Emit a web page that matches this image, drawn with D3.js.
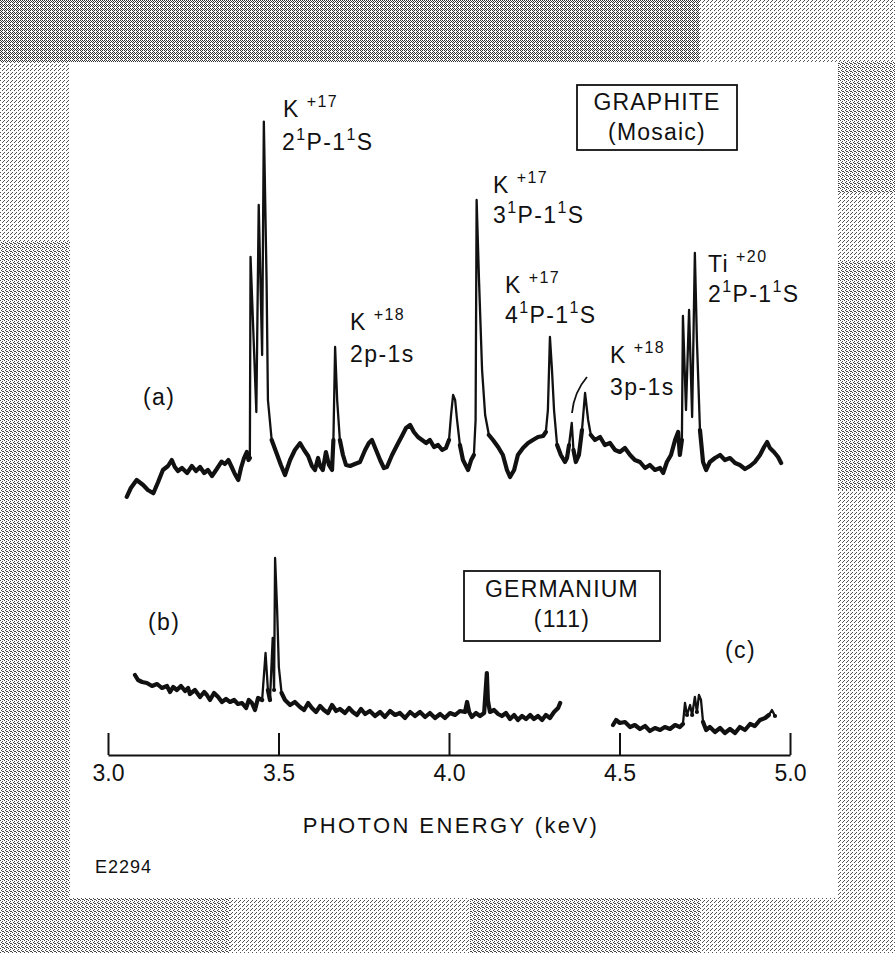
<!DOCTYPE html>
<html lang="en">
<head>
<meta charset="UTF-8">
<title>Spectra - Graphite vs Germanium</title>
<script src="https://cdn.jsdelivr.net/npm/d3@7/dist/d3.min.js"></script>
<style>
  html, body { margin: 0; padding: 0; background: #fff; }
  svg { display: block; font-family: "Liberation Sans", Arial, sans-serif; }
</style>
</head>
<body>
<div id="chart"></div>
<script>
// tick values on the energy axis (keV)
const ticks = [3.0, 3.5, 4.0, 4.5, 5.0];

// (a) graphite (mosaic) spectrum: photon energy (keV) and intensity (arb. units)
const energyA = [3.055,3.067,3.084,3.103,3.117,3.133,3.147,3.161,3.176,3.187,3.196,3.205,3.217,3.232,3.246,3.258,3.270,3.282,3.293,3.305,3.317,3.333,3.343,3.353,3.364,3.372,3.382,3.390,3.399,3.407,3.412,3.416,
  3.418,3.435,3.442,3.452,3.457,3.465,3.469,3.480,3.493,3.507,3.519,3.534,3.548,3.563,3.575,3.587,3.598,3.607,3.616,3.622,3.630,3.639,3.648,3.657,3.661,3.666,3.672,3.680,3.689,3.698,
  3.710,3.724,3.739,3.754,3.765,3.774,3.786,3.798,3.809,3.818,3.833,3.848,3.862,3.874,3.886,3.897,3.909,3.921,3.933,3.944,3.956,3.968,3.980,3.991,4.000,4.006,4.012,4.018,4.023,4.032,
  4.041,4.050,4.056,4.065,4.073,4.078,4.081,4.088,4.097,4.106,4.117,4.129,4.144,4.158,4.170,4.179,4.191,4.202,4.217,4.232,4.246,4.261,4.276,4.284,4.290,4.296,4.302,4.308,4.317,4.328,
  4.340,4.346,4.352,4.360,4.365,4.372,4.381,4.390,4.399,4.408,4.416,4.428,4.443,4.457,4.472,4.487,4.501,4.516,4.531,4.545,4.560,4.575,4.589,4.604,4.619,4.628,4.639,4.651,4.663,4.672,
  4.677,4.683,4.686,4.695,4.704,4.713,4.721,4.727,4.736,4.745,4.754,4.765,4.780,4.795,4.809,4.824,4.839,4.853,4.868,4.883,4.897,4.912,4.924,4.933,4.941,4.953,4.965,4.974];
const countsA = [0.8,3,5,3.75,2.5,1.7,4.5,7.5,8.5,10,8.25,7.25,8,6.75,8.5,7.25,8.25,6.75,7.5,6,7.5,9.6,9,10,8,6.5,5,8,10.5,12,10,10.5,
  60.8,22,73.75,36.25,94.6,55,25,15,12,8.75,6.25,10,12.5,14.2,12.5,11,8.5,7.5,10.5,8.5,7.5,12,8.75,7.5,15,38.25,25,15,11.25,8.75,
  8.5,9,9.5,12.5,14.25,15,12.5,10,8,8.25,11.25,13.75,16,18,18.75,17,15.75,15,14.25,15,13.25,13.75,12.5,13,15,21.25,26.25,25,20.5,13.75,
  10,8.5,7.5,10,11.25,20,75,55,32.5,21.25,16.25,15,13.25,11.25,7.5,5.75,7.5,11.25,13,14.25,15,15.75,16,17,22.5,40.75,32.5,22.5,13.75,11.25,
  9.5,10.5,13.75,19.25,12.5,9.5,11.25,17.5,26.75,20,16.25,15,15.75,13.75,14.25,12.5,12,13,11.25,10,9.5,8,8.75,7.5,8,6.75,9.5,11.25,15,17,
  11.25,15,46,22.5,47.5,20.75,61.75,40,17.5,9.5,7.5,9.5,10.5,11.25,10,10.5,9.25,8.75,7.75,8.5,9.5,11.25,13.25,14.5,13,12,10.75,9.25];

// (b) germanium (111) spectrum, low-energy segment
const energyB = [3.079,3.088,3.100,3.114,3.129,3.144,3.158,3.173,3.182,3.191,3.202,3.214,3.226,3.235,3.240,3.255,3.270,3.282,3.290,3.299,3.311,3.323,3.334,3.346,3.358,3.370,3.381,3.393,3.405,3.413,3.422,3.431,3.440,3.452,
  3.462,3.469,3.475,3.483,3.487,3.490,3.496,3.501,3.509,3.519,3.534,3.548,3.563,3.575,3.587,3.598,3.610,3.622,3.633,3.645,3.657,3.669,3.680,3.695,3.707,3.718,3.730,3.742,3.754,3.768,3.783,3.798,3.812,
  3.827,3.842,3.856,3.871,3.886,3.900,3.915,3.930,3.944,3.959,3.974,3.988,4.003,4.018,4.032,4.047,4.053,4.059,4.067,4.079,4.091,4.103,4.111,4.114,4.120,4.132,4.144,4.155,4.167,4.179,4.191,
  4.202,4.214,4.226,4.238,4.249,4.261,4.273,4.284,4.296,4.308,4.320,4.326];
const countsB = [32.5,30,29,28.5,27,28,26,27,24,26.5,25,27,24.5,26,23,25,21.5,24,22.5,20,23.5,21.5,19,20.5,19,20,18,18.5,16,20,18.5,15,21,20,
  43.5,25,20,51,25,91,65,36.5,23.5,20,17.5,19,16.5,15,18.5,16,14,17,15,13.5,17.5,14.5,15.5,13.5,16,14,12.5,15.5,13,14.5,12,14,11.5,
  14.5,12.5,13.5,11,14,12,14,11.5,13.5,11,13,11,13.5,12.5,14.5,14,19,14,11.5,13.5,12,13.5,33.5,20,14,15,13,12,13.5,10.5,12.5,
  10,12,10.5,12.5,10.5,12,10,12.5,11,14,16,18.5];

// (c) germanium (111) spectrum, high-energy segment
const energyC = [4.481,4.490,4.501,4.516,4.531,4.545,4.560,4.575,4.589,4.604,4.619,4.633,4.648,4.663,4.677,4.686,4.692,4.698,4.707,4.713,4.721,4.727,4.733,4.739,4.745,
  4.754,4.765,4.780,4.795,4.809,4.824,4.839,4.853,4.868,4.883,4.897,4.912,4.927,4.938,4.947,4.956];
const countsC = [7.5,10,8.5,9,6.5,7.5,5.5,7,4.5,6,5,6.5,5.5,7.5,6.5,8,18.5,12.5,17.5,12.5,21.5,14,22.5,20,9,
  5,6.5,4,6,3.5,5.5,3.5,6.5,5,8,7,10,11,12.5,15,12];

const W = 895, H = 953;
const svg = d3.select("#chart").append("svg")
  .attr("width", W).attr("height", H);

// halftone-like frame around the white plate
const defs = svg.append("defs");
function dither(id, dots, color) {
  const p = defs.append("pattern").attr("id", id)
    .attr("width", 4).attr("height", 4).attr("patternUnits", "userSpaceOnUse");
  p.append("rect").attr("width", 4).attr("height", 4).attr("fill", "#fff");
  dots.forEach(([dx, dy]) => p.append("rect").attr("x", dx).attr("y", dy)
    .attr("width", 1).attr("height", 1).attr("fill", color)
    .attr("shape-rendering", "crispEdges"));
}
dither("dark", [[0,0],[2,0],[1,1],[3,1],[0,2],[2,2],[1,3]], "#333");
dither("mid", [[0,0],[2,1],[1,2],[3,3],[2,3]], "#444");
dither("light", [[0,0],[2,2],[3,1]], "#555");

svg.append("rect").attr("width", W).attr("height", H).attr("fill", "url(#light)");
svg.append("rect").attr("x", 0).attr("y", 0).attr("width", 700).attr("height", 62).attr("fill", "url(#dark)");
svg.append("rect").attr("x", 0).attr("y", 242).attr("width", 70).attr("height", 711).attr("fill", "url(#mid)");
svg.append("rect").attr("x", 0).attr("y", 898).attr("width", 230).attr("height", 55).attr("fill", "url(#mid)");
svg.append("rect").attr("x", 470).attr("y", 898).attr("width", 230).attr("height", 55).attr("fill", "url(#mid)");
svg.append("rect").attr("x", 838).attr("y", 62).attr("width", 57).attr("height", 130).attr("fill", "url(#mid)");
svg.append("rect").attr("x", 838).attr("y", 260).attr("width", 57).attr("height", 230).attr("fill", "url(#mid)");

// white plate
svg.append("rect").attr("x", 70).attr("y", 62).attr("width", 768).attr("height", 836).attr("fill", "#fff");

const x = d3.scaleLinear().domain([3, 5]).range([108, 790]);
const yA = d3.scaleLinear().domain([0, 100]).range([500, 100]);
const yB = d3.scaleLinear().domain([0, 100]).range([740, 540]);

const g = svg.append("g");

// thin line for the whole trace, heavier pen over the noisy continuum
function trace(es, cs, y, floor) {
  const pts = es.map((e, i) => [e, cs[i]]);
  const line = d3.line().x(d => x(d[0])).y(d => y(d[1]));
  g.append("path").datum(pts)
    .attr("fill", "none").attr("stroke", "#111")
    .attr("stroke-width", 2.3).attr("stroke-linejoin", "round")
    .attr("d", line);
  g.append("path").datum(pts)
    .attr("fill", "none").attr("stroke", "#111")
    .attr("stroke-width", 4.2).attr("stroke-linejoin", "round").attr("stroke-linecap", "round")
    .attr("d", line.defined(d => d[1] < floor));
}
trace(energyA, countsA, yA, 19);
trace(energyB, countsB, yB, 34);
trace(energyC, countsC, yB, 15);

// energy axis with upward ticks
const axis = g.append("g").attr("transform", "translate(0,755)")
  .call(d3.axisBottom(x).tickValues(ticks).tickFormat(d3.format(".1f"))
    .tickSize(-22).tickSizeOuter(0).tickPadding(10));
axis.select(".domain").attr("stroke", "#111").attr("stroke-width", 2);
axis.selectAll(".tick line").attr("stroke", "#111").attr("stroke-width", 2);
axis.selectAll(".tick text").attr("fill", "#111").attr("font-size", 23)
  .attr("font-family", "Liberation Sans, Arial, sans-serif");

g.append("text").attr("x", 451).attr("y", 833).attr("text-anchor", "middle")
  .attr("font-size", 22).attr("letter-spacing", 2.4).attr("fill", "#111")
  .text("PHOTON ENERGY (keV)");
g.append("text").attr("x", 95).attr("y", 873).attr("font-size", 18)
  .attr("letter-spacing", 1).attr("fill", "#111").text("E2294");

// line annotations; parts flagged true are superscripts
function label(xp, yp, parts) {
  const t = g.append("text").attr("x", xp).attr("y", yp)
    .attr("font-size", 23).attr("letter-spacing", 1.4).attr("fill", "#111");
  let up = false;
  parts.forEach(([s, sup, dx]) => {
    const ts = t.append("tspan").text(s);
    if (dx) ts.attr("dx", dx);
    if (sup) { ts.attr("font-size", 16); if (!up) { ts.attr("dy", -10); up = true; } }
    else if (up) { ts.attr("dy", 10); up = false; }
  });
}
label(283, 117, [["K"], ["+17", true, 7]]);
label(282, 150, [["2"], ["1", true], ["P-1"], ["1", true], ["S"]]);
label(350, 330, [["K"], ["+18", true, 7]]);
label(350, 362, [["2p-1s"]]);
label(493, 193, [["K"], ["+17", true, 7]]);
label(493, 223, [["3"], ["1", true], ["P-1"], ["1", true], ["S"]]);
label(505, 293, [["K"], ["+17", true, 7]]);
label(505, 323, [["4"], ["1", true], ["P-1"], ["1", true], ["S"]]);
label(610, 363, [["K"], ["+18", true, 7]]);
label(610, 395, [["3p-1s"]]);
label(708, 272, [["Ti"], ["+20", true, 7]]);
label(708, 302, [["2"], ["1", true], ["P-1"], ["1", true], ["S"]]);
label(143, 405, [["(a)"]]);
label(148, 630, [["(b)"]]);
label(725, 658, [["(c)"]]);

// pointer to the K+18 3p-1s line
g.append("path").attr("d", "M587,377 Q574,392 572,413")
  .attr("fill", "none").attr("stroke", "#111").attr("stroke-width", 1.8);

// crystal boxes
function box(x0, y0, w, h, l1, l2, b1, b2) {
  g.append("rect").attr("x", x0).attr("y", y0).attr("width", w).attr("height", h)
    .attr("fill", "none").attr("stroke", "#111").attr("stroke-width", 1.8);
  [[l1, b1], [l2, b2]].forEach(([s, b]) => g.append("text")
    .attr("x", x0 + w / 2).attr("y", b).attr("text-anchor", "middle")
    .attr("font-size", 23).attr("letter-spacing", 1.2).attr("fill", "#111").text(s));
}
box(577, 85, 160, 65, "GRAPHITE", "(Mosaic)", 110, 140);
box(464, 571, 196, 70, "GERMANIUM", "(111)", 597, 627);
</script>
</body>
</html>
